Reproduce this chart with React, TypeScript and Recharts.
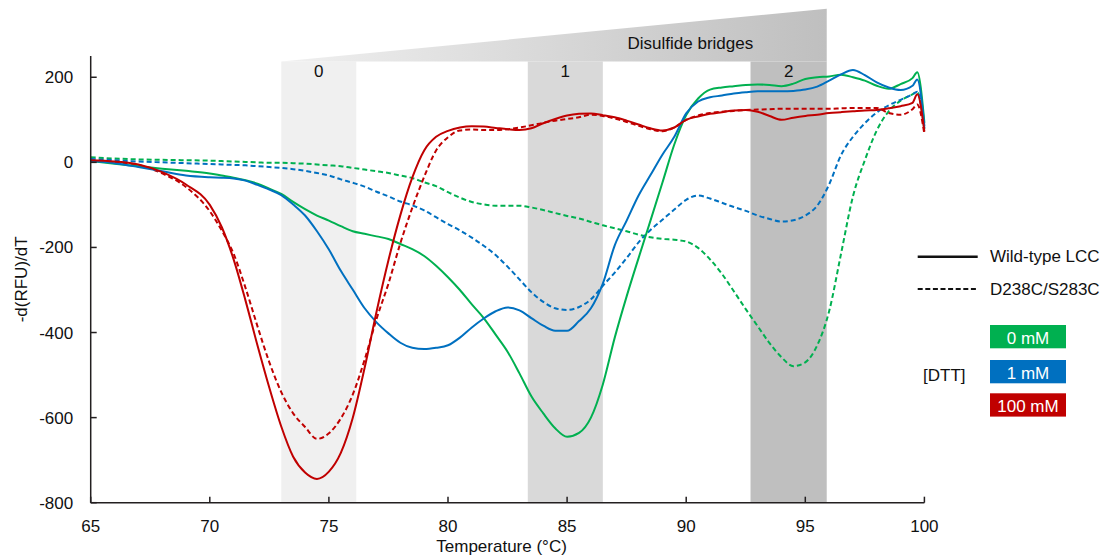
import React from 'react'
import { LineChart, Line, XAxis, YAxis, ReferenceArea } from 'recharts'

// temperature grid (°C) shared by every curve
const temps = [
  65, 66, 67, 68, 69, 70, 70.5, 71, 71.5, 72, 72.5, 73, 73.5, 74, 74.5, 75, 75.5, 76, 76.5, 77, 77.5,
  78, 78.5, 79, 79.5, 80, 80.5, 81, 81.5, 82, 82.5, 83, 83.5, 84, 84.5, 85, 85.5, 86, 86.5, 87, 87.5,
  88, 88.5, 89, 89.5, 90, 90.5, 91, 91.5, 92, 92.5, 93, 93.5, 94, 94.5, 95, 95.5, 96, 96.5, 97, 97.5,
  98, 98.5, 99, 99.5, 99.7, 100,
]

// -d(RFU)/dT, wild-type LCC
const wt0mM = [
  3, -3, -9, -15, -20, -26, -31, -36, -42, -50, -62, -74, -93, -110, -125, -137, -150, -162, -168, -174, -180,
  -192, -204, -220, -243, -270, -300, -334, -366, -405, -445, -496, -550, -590, -625, -645, -636, -600, -522, -412, -315,
  -225, -137, -48, 42, 111, 150, 171, 176, 179, 182, 183, 182, 179, 185, 196, 200, 202, 206, 200, 192,
  180, 173, 184, 198, 212, 93,
]
const wt1mM = [
  3, -2, -11, -21, -31, -35, -36, -38, -43, -53, -64, -77, -99, -125, -162, -205, -255, -299, -343, -376, -402,
  -424, -436, -439, -436, -430, -412, -388, -367, -350, -341, -348, -366, -384, -396, -396, -373, -343, -285, -195, -137,
  -78, -30, 18, 60, 115, 143, 153, 157, 162, 165, 167, 167, 167, 168, 171, 178, 192, 207, 217, 205,
  188, 176, 170, 180, 195, 85,
]
const wt100mM = [
  5, 2, -5, -23, -52, -100, -152, -228, -325, -430, -530, -621, -692, -729, -744, -727, -683, -601, -483, -351, -230,
  -124, -36, 28, 60, 74, 82, 85, 84, 81, 78, 76, 80, 92, 102, 110, 114, 115, 111, 106, 98,
  89, 80, 75, 82, 100, 108, 114, 118, 122, 123, 119, 109, 100, 105, 109, 112, 116, 118, 120, 122,
  123, 127, 132, 140, 160, 72,
]

// -d(RFU)/dT, D238C/S283C
const mut0mM = [
  12, 9, 7, 6, 5, 4, 3, 2, 1, 0, -1, -1, -2, -3, -5, -7, -9, -13, -17, -21, -25,
  -31, -37, -47, -56, -70, -83, -93, -99, -102, -102, -102, -106, -112, -119, -126, -132, -140, -148, -155, -162,
  -170, -176, -180, -182, -186, -201, -228, -262, -303, -345, -385, -425, -458, -479, -470, -430, -350, -215, -80, 5,
  75, 120, 145, 160, 165, 77,
]
const mut1mM = [
  8, 5, 2, 0, -2, -4, -5, -6, -7, -9, -11, -13, -16, -20, -25, -31, -40, -48, -57, -69, -80,
  -92, -101, -113, -129, -145, -160, -177, -196, -218, -245, -275, -305, -328, -343, -347, -340, -322, -290, -259, -225,
  -188, -159, -135, -111, -88, -78, -85, -95, -105, -114, -125, -133, -139, -136, -125, -102, -52, 17, 60, 92,
  117, 134, 147, 160, 166, 80,
]
const mut100mM = [
  3, 0, -6, -26, -58, -115, -160, -215, -295, -385, -470, -540, -590, -622, -650, -637, -602, -546, -464, -368, -285,
  -190, -107, -34, 28, 59, 75, 77, 76, 76, 78, 82, 87, 93, 98, 102, 106, 112, 109, 103, 95,
  86, 78, 73, 82, 100, 110, 116, 119, 121, 123, 124, 125, 126, 126, 126, 126, 126, 127, 128, 128,
  128, 116, 112, 125, 136, 66,
]

const xTicks = [65, 70, 75, 80, 85, 90, 95, 100]
const yTicks = [-800, -600, -400, -200, 0, 200]

// shaded regions: number of disulfide bridges
const bandLabels = ['0', '1', '2']
const bandStart = [73, 83.35, 92.7]
const bandEnd = [76.15, 86.5, 95.9]
const bandTop = 237
const wedgeTop = 361

const FONT = '"Liberation Sans", Arial, Helvetica, sans-serif'
const GREEN = '#00b050'
const BLUE = '#0070c0'
const RED = '#c00000'
const AXIS = '#231f20'
const TEXT = '#111'
const bandFills = ['#f0f0f0', '#d9d9d9', '#bfbfbf']

const data = temps.map((t, i) => ({
  t,
  wt0: wt0mM[i],
  wt1: wt1mM[i],
  wt100: wt100mM[i],
  m0: mut0mM[i],
  m1: mut1mM[i],
  m100: mut100mM[i],
}))

function XTick({ x, y, payload }: any) {
  return (
    <g>
      <line x1={x} y1={y} x2={x} y2={y - 6} stroke={AXIS} strokeWidth={1.5} />
      <text x={x} y={y + 29} textAnchor="middle" fontSize={17} fill={TEXT} fontFamily={FONT}>
        {payload.value}
      </text>
    </g>
  )
}

function YTick({ x, y, payload }: any) {
  return (
    <g>
      <line x1={x} y1={y} x2={x + 6} y2={y} stroke={AXIS} strokeWidth={1.5} />
      <text x={x - 17.5} y={y + 6} textAnchor="end" fontSize={17} fill={TEXT} fontFamily={FONT}>
        {payload.value}
      </text>
    </g>
  )
}

function YTitle({ viewBox }: any) {
  const cx = viewBox.x + 10.5
  const cy = viewBox.y + viewBox.height / 2
  return (
    <text
      x={cx}
      y={cy + 6}
      transform={`rotate(-90 ${cx} ${cy})`}
      textAnchor="middle"
      fontSize={17}
      fill={TEXT}
      fontFamily={FONT}
    >
      -d(RFU)/dT
    </text>
  )
}

function XTitle({ viewBox }: any) {
  return (
    <text
      x={viewBox.x + viewBox.width / 2 - 6}
      y={viewBox.y + 49.5}
      textAnchor="middle"
      fontSize={17}
      fill={TEXT}
      fontFamily={FONT}
    >
      Temperature (°C)
    </text>
  )
}

// rising grey wedge above the bands
function Wedge({ x, y, width, height }: any) {
  return (
    <g>
      <defs>
        <linearGradient id="wedgeFill" x1="0" y1="0" x2="1" y2="0">
          <stop offset="0" stopColor="#f0f0f0" />
          <stop offset="1" stopColor="#bfbfbf" />
        </linearGradient>
      </defs>
      <polygon
        points={`${x},${y + height} ${x + width},${y} ${x + width},${y + height}`}
        fill="url(#wedgeFill)"
      />
      <text
        x={x + width * 0.75}
        y={y + height - 12.4}
        textAnchor="middle"
        fontSize={17}
        fill={TEXT}
        fontFamily={FONT}
      >
        Disulfide bridges
      </text>
    </g>
  )
}

function Legend() {
  const boxes = [
    { label: '0 mM', color: GREEN, top: 325 },
    { label: '1 mM', color: BLUE, top: 360 },
    { label: '100 mM', color: RED, top: 393.3 },
  ]
  return (
    <svg
      width={1115}
      height={560}
      style={{ position: 'absolute', left: 0, top: 0, pointerEvents: 'none' }}
    >
      <line x1={917.7} y1={256.7} x2={977.7} y2={256.7} stroke={TEXT} strokeWidth={2.4} />
      <text x={990} y={261.7} fontSize={17} fill={TEXT} fontFamily={FONT}>
        Wild-type LCC
      </text>
      <line
        x1={917.7}
        y1={289}
        x2={977.7}
        y2={289}
        stroke={TEXT}
        strokeWidth={2}
        strokeDasharray="5 2.6"
      />
      <text x={990} y={295} fontSize={17} fill={TEXT} fontFamily={FONT}>
        D238C/S283C
      </text>
      <text x={923} y={380.5} fontSize={17} fill={TEXT} fontFamily={FONT}>
        [DTT]
      </text>
      {boxes.map((b) => (
        <g key={b.label}>
          <rect x={990} y={b.top} width={76} height={23.3} fill={b.color} />
          <text
            x={1028}
            y={b.top + 18.5}
            textAnchor="middle"
            fontSize={17}
            fill="#fff"
            fontFamily={FONT}
          >
            {b.label}
          </text>
        </g>
      ))}
    </svg>
  )
}

export default function App() {
  return (
    <div style={{ position: 'absolute', left: 0, top: 0, width: 1115, height: 560, background: '#fff' }}>
      <LineChart
        width={1115}
        height={560}
        data={data}
        margin={{ top: 56, right: 190.6, bottom: 7.3, left: 10.7 }}
      >
        {bandLabels.map((lab, i) => (
          <ReferenceArea
            key={lab}
            x1={bandStart[i]}
            x2={bandEnd[i]}
            y1={-800}
            y2={bandTop}
            ifOverflow="visible"
            fill={bandFills[i]}
            fillOpacity={1}
            stroke="none"
            label={{
              value: lab,
              position: 'insideTop',
              offset: 3,
              fontSize: 17,
              fill: TEXT,
              fontFamily: FONT,
            }}
          />
        ))}
        <ReferenceArea
          x1={bandStart[0]}
          x2={bandEnd[2]}
          y1={bandTop}
          y2={wedgeTop}
          ifOverflow="visible"
          shape={Wedge}
        />
        <XAxis
          dataKey="t"
          type="number"
          domain={[65, 100]}
          ticks={xTicks}
          height={50}
          tickSize={0}
          tickMargin={0}
          tickLine={false}
          tick={XTick}
          axisLine={{ stroke: AXIS, strokeWidth: 1.5 }}
          label={{ content: XTitle }}
          allowDecimals
        />
        <YAxis
          type="number"
          domain={[-800, 250]}
          ticks={yTicks}
          width={80}
          tickSize={0}
          tickMargin={0}
          tickLine={false}
          tick={YTick}
          axisLine={{ stroke: AXIS, strokeWidth: 1.5 }}
          label={{ content: YTitle }}
        />
        <Line dataKey="m0" type="monotone" stroke={GREEN} strokeWidth={2} strokeDasharray="5 3" dot={false} activeDot={false} isAnimationActive={false} />
        <Line dataKey="m1" type="monotone" stroke={BLUE} strokeWidth={2} strokeDasharray="5 3" dot={false} activeDot={false} isAnimationActive={false} />
        <Line dataKey="m100" type="monotone" stroke={RED} strokeWidth={2} strokeDasharray="5 3" dot={false} activeDot={false} isAnimationActive={false} />
        <Line dataKey="wt0" type="monotone" stroke={GREEN} strokeWidth={2} dot={false} activeDot={false} isAnimationActive={false} />
        <Line dataKey="wt1" type="monotone" stroke={BLUE} strokeWidth={2} dot={false} activeDot={false} isAnimationActive={false} />
        <Line dataKey="wt100" type="monotone" stroke={RED} strokeWidth={2} dot={false} activeDot={false} isAnimationActive={false} />
      </LineChart>
      <Legend />
    </div>
  )
}
